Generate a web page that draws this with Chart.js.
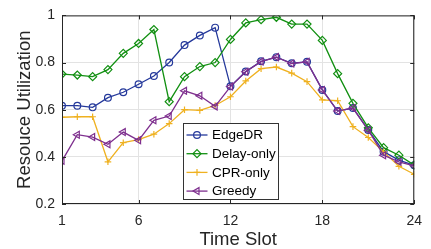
<!DOCTYPE html>
<html>
<head>
<meta charset="utf-8">
<script src="https://cdn.jsdelivr.net/npm/chart.js@4.4.1/dist/chart.umd.min.js"></script>
<style>
  body { margin: 0; background: #fff; }
  canvas { display: block; }
</style>
</head>
<body>
<canvas id="chart" width="431" height="249"></canvas>
<script>
// time slots on the x axis
const slots = [1, 2, 3, 4, 5, 6, 7, 8, 9, 10, 11, 12, 13, 14, 15, 16, 17, 18, 19, 20, 21, 22, 23, 24];
const xTickValues = [1, 6, 12, 18, 24];
const yTickValues = [0.2, 0.4, 0.6, 0.8, 1];

// utilization per slot
const edgeDR = [0.617, 0.617, 0.610, 0.651, 0.674, 0.708, 0.743, 0.800, 0.874, 0.915, 0.948, 0.699,
  0.762, 0.805, 0.823, 0.797, 0.803, 0.684, 0.594, 0.607, 0.514, 0.422, 0.386, 0.364];
const delayOnly = [0.751, 0.747, 0.740, 0.770, 0.839, 0.881, 0.940, 0.634, 0.740, 0.783, 0.800, 0.898,
  0.968, 0.982, 0.992, 0.963, 0.963, 0.894, 0.753, 0.627, 0.523, 0.439, 0.407, 0.365];
const cprOnly = [0.568, 0.570, 0.570, 0.379, 0.460, 0.473, 0.496, 0.541, 0.600, 0.597, 0.618, 0.655,
  0.722, 0.774, 0.781, 0.755, 0.719, 0.642, 0.638, 0.528, 0.482, 0.421, 0.360, 0.326];
const greedy = [0.383, 0.494, 0.484, 0.453, 0.505, 0.470, 0.555, 0.573, 0.680, 0.659, 0.614, 0.698,
  0.761, 0.804, 0.823, 0.796, 0.803, 0.684, 0.594, 0.607, 0.513, 0.407, 0.379, 0.362];

const seriesNames = ['EdgeDR', 'Delay-only', 'CPR-only', 'Greedy'];

const FONT = '"Liberation Sans", Arial, Helvetica, sans-serif';
const AXIS_COLOUR = '#262626';
const NONE = 'rgba(0,0,0,0)';

const styles = [
  { colour: '#25399b', pointStyle: 'circle', radius: 3.4, rotation: 0 },
  { colour: '#129012', pointStyle: 'rectRot', radius: 4, rotation: 0 },
  { colour: '#efb120', pointStyle: 'cross', radius: 3.3, rotation: 0 },
  { colour: '#7e2f8e', pointStyle: 'triangle', radius: 4, rotation: -90 },
];

function makeDataset(label, values, i) {
  const s = styles[i];
  return {
    label: label,
    data: slots.map((x, k) => ({ x: x, y: values[k] })),
    borderColor: s.colour,
    backgroundColor: s.colour,
    borderWidth: 1.3,
    pointStyle: s.pointStyle,
    pointRadius: s.radius,
    pointRotation: s.rotation,
    pointBorderColor: s.colour,
    pointBackgroundColor: NONE,
    pointBorderWidth: 1.2,
    tension: 0,
    order: 4 - i, // later series drawn on top, as in the source figure
  };
}

// box around the plot, inward ticks, and the legend inside the axes
const matlabLook = {
  id: 'matlabLook',
  afterDraw(chart) {
    const { ctx, chartArea: a, scales } = chart;
    ctx.save();
    ctx.strokeStyle = AXIS_COLOUR;
    ctx.lineWidth = 1;
    ctx.strokeRect(a.left + 0.5, a.top + 0.5, a.right - a.left - 1, a.bottom - a.top - 1);

    const tl = 4;
    ctx.beginPath();
    xTickValues.forEach(v => {
      const px = Math.round(scales.x.getPixelForValue(v)) + 0.5;
      ctx.moveTo(px, a.bottom); ctx.lineTo(px, a.bottom - tl);
      ctx.moveTo(px, a.top); ctx.lineTo(px, a.top + tl);
    });
    yTickValues.forEach(v => {
      const py = Math.round(scales.y.getPixelForValue(v)) + 0.5;
      ctx.moveTo(a.left, py); ctx.lineTo(a.left + tl, py);
      ctx.moveTo(a.right, py); ctx.lineTo(a.right - tl, py);
    });
    ctx.stroke();

    // legend
    const box = { x: 183.5, y: 123.5, w: 95, h: 76 };
    ctx.fillStyle = '#ffffff';
    ctx.fillRect(box.x, box.y, box.w, box.h);
    ctx.strokeStyle = '#333333';
    ctx.strokeRect(box.x, box.y, box.w, box.h);
    ctx.font = '13.5px ' + FONT;
    ctx.textBaseline = 'middle';
    chart.data.datasets.forEach((ds, i) => {
      const s = styles[i];
      const cy = box.y + 11.5 + i * 18.7;
      ctx.strokeStyle = s.colour;
      ctx.lineWidth = 1.3;
      ctx.beginPath();
      ctx.moveTo(box.x + 3, cy); ctx.lineTo(box.x + 24, cy);
      ctx.stroke();
      ctx.fillStyle = NONE;
      ctx.lineWidth = 1.2;
      Chart.helpers.drawPoint(ctx, {
        pointStyle: s.pointStyle, radius: s.radius, rotation: s.rotation, borderWidth: 1.2
      }, box.x + 13.5, cy);
      ctx.fillStyle = '#000000';
      ctx.fillText(ds.label, box.x + 28.5, cy + 0.5);
    });
    ctx.restore();
  }
};

new Chart(document.getElementById('chart'), {
  type: 'line',
  data: {
    datasets: [
      makeDataset(seriesNames[0], edgeDR, 0),
      makeDataset(seriesNames[1], delayOnly, 1),
      makeDataset(seriesNames[2], cprOnly, 2),
      makeDataset(seriesNames[3], greedy, 3),
    ]
  },
  options: {
    responsive: false,
    animation: false,
    events: [],
    layout: { padding: { top: 14, right: 12, left: 0, bottom: 0 } },
    plugins: {
      legend: { display: false },
      tooltip: { enabled: false },
    },
    scales: {
      x: {
        type: 'linear',
        min: 1,
        max: 24,
        afterBuildTicks: (scale) => { scale.ticks = xTickValues.map(v => ({ value: v })); },
        afterFit: (scale) => { scale.height = 45; },
        grid: { color: '#e3e3e3', lineWidth: 1, drawTicks: false },
        border: { display: false },
        ticks: {
          padding: 9,
          color: AXIS_COLOUR,
          font: { family: FONT, size: 14 },
          maxRotation: 0,
          callback: (v) => String(v),
        },
        title: {
          display: true,
          text: 'Time Slot',
          color: AXIS_COLOUR,
          font: { family: FONT, size: 18.5, lineHeight: 1 },
          padding: 0,
        },
      },
      y: {
        min: 0.2,
        max: 1,
        afterBuildTicks: (scale) => { scale.ticks = yTickValues.map(v => ({ value: v })); },
        afterFit: (scale) => { scale.width = 62; },
        grid: { color: '#e3e3e3', lineWidth: 1, drawTicks: false },
        border: { display: false },
        ticks: {
          padding: 7,
          color: AXIS_COLOUR,
          font: { family: FONT, size: 14 },
          callback: (v) => (v === 1 ? '1' : v.toFixed(1)),
        },
        title: {
          display: true,
          text: 'Resouce Utilization',
          color: AXIS_COLOUR,
          font: { family: FONT, size: 18.5, lineHeight: 1 },
          padding: 16,
        },
      },
    },
  },
  plugins: [matlabLook],
});
</script>
</body>
</html>
